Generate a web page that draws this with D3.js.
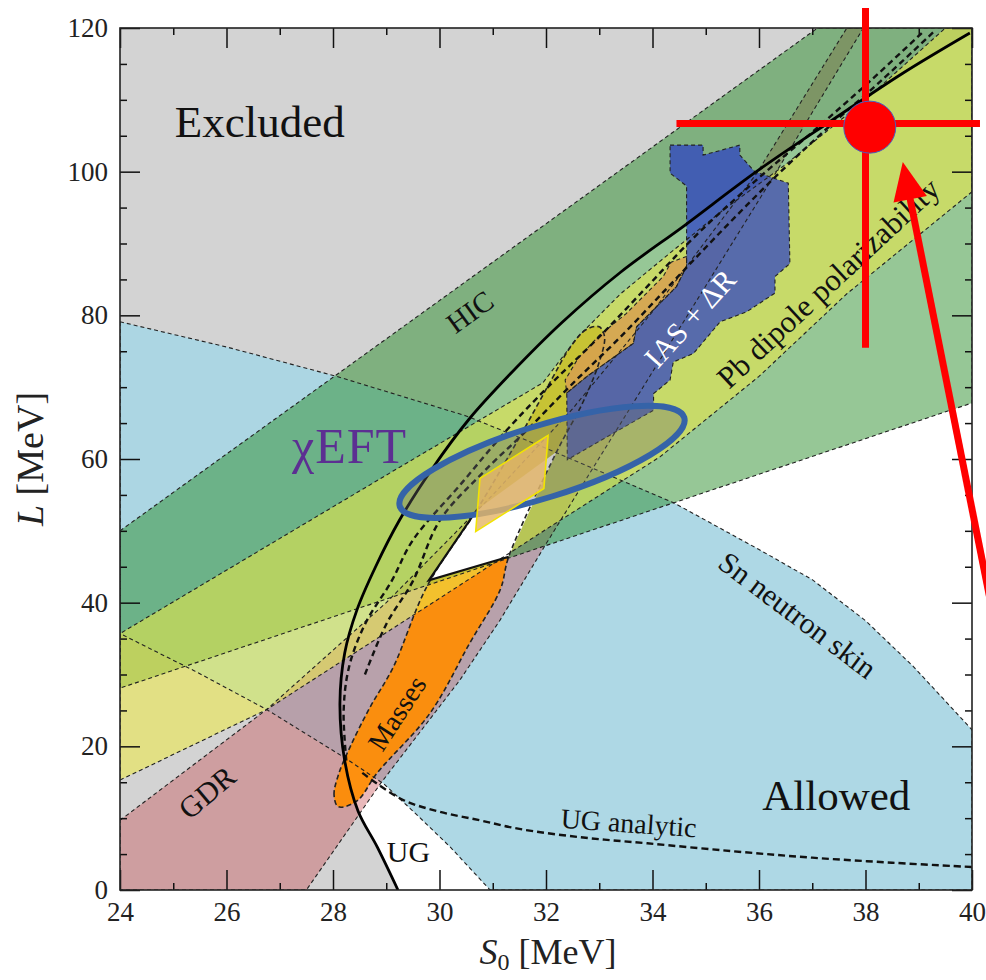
<!DOCTYPE html>
<html>
<head>
<meta charset="utf-8">
<script src="https://cdn.jsdelivr.net/npm/d3@7/dist/d3.min.js"></script>
<style>
  body { margin: 0; background: #fff; }
  svg { display: block; }
  text { font-family: "Liberation Serif", "DejaVu Serif", serif; }
</style>
</head>
<body>
<svg id="chart" width="986" height="980"></svg>
<script>
// ---- ticks ----
const xMajor = [24, 26, 28, 30, 32, 34, 36, 38, 40];
const xMinor = [25, 27, 29, 31, 33, 35, 37, 39];
const yMajor = [0, 20, 40, 60, 80, 100, 120];
const yMinor = [5, 10, 15, 25, 30, 35, 45, 50, 55, 65, 70, 75, 85, 90, 95, 105, 110, 115];

// ---- constraint regions, [S0, L] ----
const snBand = [[24, 79.1], [26, 75.6], [28.07, 71.5], [30.5, 66], [32, 61.5], [34.4, 53.9], [36, 47.4],
  [37, 43.2], [38, 37.5], [38.9, 31.1], [40, 22.3], [40, 0], [30.95, 0], [30.2, 6], [29.5, 11],
  [28.95, 14.8], [28.2, 18.5], [26.76, 25.1], [25.4, 30.5], [24, 35.7]];
const hicBand = [[24, 50], [37.1, 120], [40, 120], [40, 67.8], [24, 28.1]];
const pbBand = [[24, 15.3], [26.75, 25.1], [30, 40.6], [32, 50.2], [34.14, 60.3], [36, 71.5], [37.65, 83],
  [40, 97.2], [40, 120], [39.5, 120], [38, 110], [36.5, 101], [35.3, 94.5], [34.3, 88.5], [33.4, 83],
  [32.6, 77], [31.94, 70.6], [29.26, 58.9], [24, 35.7]];
const gdrBand = [[24, 9.7], [26.75, 25.1], [29, 40], [31, 55], [32.5, 67], [34, 80.5], [35.96, 99.8],
  [37.65, 120], [37.96, 120], [36.27, 99.3], [32.01, 48.3], [31.14, 37.6], [30.38, 29.2], [28.9, 14.9],
  [27.5, 0], [24, 0]];
const massesBand = [[28.1, 11.6], [28.02, 13.2], [28.1, 16], [28.32, 19.9], [28.7, 25.5], [29.13, 31],
  [29.76, 42.2], [30.7, 52.9], [31.5, 63], [32.1, 71], [32.45, 75.5], [32.75, 78], [33.0, 78.4],
  [33.1, 77], [33.0, 73.5], [32.7, 68], [32.2, 61], [31.3, 46.4], [31.14, 41.8], [30.57, 34.4],
  [29.82, 24.6], [28.83, 16.3], [28.45, 12.4]];
const iasBand = [[34.33, 103.7], [34.95, 103.7], [34.95, 102.3], [35.64, 103.7], [35.64, 102.3],
  [35.92, 100.0], [36.55, 98.4], [36.58, 87.2], [36.3, 85.4], [36.3, 83.1], [35.77, 80.5],
  [35.27, 79.1], [34.77, 74.7], [34.39, 73.5], [34.33, 71.0], [34.02, 69.1], [34.02, 66.8],
  [32.4, 59.9], [32.39, 69.2], [32.77, 71.5], [33.64, 76.1], [33.7, 78.4], [34.45, 84],
  [34.64, 86.8], [34.64, 98], [34.33, 99.8]];
const iasEdge = [[32.39, 69.2], [32.77, 71.5], [33.64, 76.1], [33.7, 78.4], [34.45, 84], [34.64, 86.8],
  [34.64, 88.2], [34.35, 87.4], [34.2, 85.4], [33.5, 80.2], [33.0, 77.2], [32.6, 74.0], [32.36, 71.0]];
const overlap = [[29.8, 43.1], [30.7, 52.9], [32.2, 61.0], [31.3, 46.4]];

// ---- unitary gas bounds ----
const ugCurve = [[29.22, 0], [28.83, 6], [28.47, 11], [28.22, 18], [28.13, 26], [28.22, 33], [28.45, 39],
  [28.8, 45], [29.25, 51.5], [29.85, 58.5], [30.55, 65.5], [31.35, 72], [32.3, 79], [33.4, 86],
  [34.6, 92.5], [35.95, 100], [37.4, 107.3], [38.7, 113.7], [39.96, 119.3]];
const ugDashA = [[28.25, 18], [28.2, 25], [28.3, 31], [28.6, 37], [29.1, 43], [29.5, 48.7], [30.4, 56.5],
  [31.26, 64], [32.1, 70.5], [33.0, 77], [33.9, 84], [34.8, 91], [35.9, 98.5], [37.0, 105.5],
  [38.1, 112.7], [39.1, 119.6]];
const ugDashB = [[28.6, 30], [29.0, 37], [29.5, 43], [30.01, 51.5], [30.8, 58], [31.64, 64],
  [32.5, 70.5], [33.4, 77], [34.3, 84], [35.2, 91], [36.2, 98.5], [37.2, 105.5], [38.3, 112.7],
  [39.3, 119.6]];
const ugAnalytic = [[28.55, 16.3], [29.3, 12.6], [30.0, 10.9], [30.76, 9.7], [31.5, 8.5], [32.7, 7.3],
  [33.9, 6.5], [35.5, 5.4], [37.0, 4.5], [38.5, 3.8], [40, 3.2]];

// ---- labels in the plot ----
const regionLabels = [
  { text: "Excluded", at: [25.03, 104.8], angle: 0, size: 45, anchor: "start" },
  { text: "Allowed", at: [36.06, 11.1], angle: 0, size: 43, anchor: "start" },
  { text: "HIC", at: [30.57, 80.5], angle: -36, size: 29, anchor: "middle" },
  { text: "IAS + ΔR", at: [34.7, 79.6], angle: -48, size: 30, anchor: "middle", fill: "#fff" },
  { text: "Pb dipole polarizability", at: [37.3, 84.5], angle: -43, size: 31, anchor: "middle" },
  { text: "Sn neutron skin", at: [36.73, 38.3], angle: 37, size: 30, anchor: "middle" },
  { text: "GDR", at: [25.63, 13.6], angle: -40, size: 30, anchor: "middle" },
  { text: "Masses", at: [29.2, 24.6], angle: -57, size: 28, anchor: "middle" },
  { text: "UG", at: [29.01, 3.9], angle: 0, size: 30, anchor: "start" },
  { text: "UG analytic", at: [33.54, 8.0], angle: 4, size: 28, anchor: "base" }
];

// ---- annotations drawn over the figure ----
const eftEnds = [[29.2, 53.3], [34.65, 65.9]];
const eftLabel = [27.23, 59.4];
const eftBox = [[30.76, 57.3], [32.04, 63.3], [31.96, 55.9], [30.68, 49.9]];
const crossH = [[34.45, 106.7], [40.15, 106.7]];
const crossV = [[38.0, 122.8], [38.0, 75.5]];
const crossDot = [38.08, 106.2];
const arrowLine = [[40.34, 40.4], [38.70, 101.35]];

const svg = d3.select("#chart");
const x = d3.scaleLinear().domain([24, 40]).range([120, 972]);
const y = d3.scaleLinear().domain([0, 120]).range([890, 28]);

svg.append("defs").append("clipPath").attr("id", "plot")
  .append("rect").attr("x", 120).attr("y", 28).attr("width", 852).attr("height", 862);

const line = d3.line().x(d => x(d[0])).y(d => y(d[1]));
const smooth = d3.line().x(d => x(d[0])).y(d => y(d[1])).curve(d3.curveCatmullRom);
const blob = d3.line().x(d => x(d[0])).y(d => y(d[1])).curve(d3.curveCatmullRomClosed);
const closed = pts => line(pts) + "Z";

const g = svg.append("g").attr("clip-path", "url(#plot)");

// excluded background and allowed side of the UG bound
g.append("rect").attr("x", 120).attr("y", 28).attr("width", 852).attr("height", 862).attr("fill", "#d3d3d3");
g.append("path")
  .attr("d", smooth(ugCurve) + `L${x(40.5)},${y(121)}L${x(40.5)},${y(-1)}Z`)
  .attr("fill", "#fff");

const layers = [
  { pts: snBand, fill: "rgb(170,214,228)", op: 0.95 },
  { pts: gdrBand, fill: "rgb(200,80,85)", op: 0.4 },
  { pts: massesBand, fill: "#ff8c00", op: 0.92, round: true },
  { pts: hicBand, fill: "rgb(40,140,40)", op: 0.49 },
  { pts: pbBand, fill: "rgb(238,234,70)", op: 0.56 },
  { pts: iasBand, fill: "rgb(40,60,200)", op: 0.7 },
  { pts: iasEdge, fill: "rgb(215,160,80)", op: 0.85 }
];

layers.forEach(l => {
  g.append("path")
    .attr("d", l.round ? blob(l.pts) : closed(l.pts))
    .attr("fill", l.fill)
    .attr("fill-opacity", l.op);
});

g.append("path").attr("d", closed(overlap)).attr("fill", "#fff");

// dashed outlines of the regions
layers.forEach(l => {
  g.append("path")
    .attr("d", l.round ? blob(l.pts) : closed(l.pts))
    .attr("fill", "none")
    .attr("stroke", "#222")
    .attr("stroke-width", l.round ? 1.6 : 1.1)
    .attr("stroke-dasharray", l.round ? "5,3" : "4,3");
});

g.append("path").attr("d", line([overlap[1], overlap[0], overlap[3]]))
  .attr("fill", "none").attr("stroke", "#111").attr("stroke-width", 2.2);

[ugDashA, ugDashB].forEach(c => {
  g.append("path").attr("d", smooth(c))
    .attr("fill", "none").attr("stroke", "#111")
    .attr("stroke-width", 2.4).attr("stroke-dasharray", "6,4");
});
g.append("path").attr("d", smooth(ugAnalytic))
  .attr("fill", "none").attr("stroke", "#111")
  .attr("stroke-width", 2.4).attr("stroke-dasharray", "7,4");
g.append("path").attr("d", smooth(ugCurve))
  .attr("fill", "none").attr("stroke", "#000").attr("stroke-width", 2.8);

// region labels
regionLabels.forEach(d => {
  g.append("text")
    .attr("transform", `translate(${x(d.at[0])},${y(d.at[1])}) rotate(${d.angle})`)
    .attr("text-anchor", d.anchor === "start" ? "start" : "middle")
    .attr("dominant-baseline", d.anchor === "middle" ? "central" : "auto")
    .attr("font-size", d.size)
    .attr("fill", d.fill || "#111")
    .text(d.text);
});

// ---- axes with inward ticks ----
const noDomain = sel => sel.select(".domain").remove();
const tickStyle = sel => sel.selectAll("line").attr("stroke", "#111").attr("stroke-width", 1.5);
const labelStyle = sel => sel.selectAll("text").attr("font-size", 27).attr("fill", "#222")
  .attr("font-family", "Liberation Serif, serif");

svg.append("g").attr("transform", "translate(0,890)")
  .call(d3.axisBottom(x).tickValues(xMajor).tickSize(-20).tickPadding(12).tickFormat(d3.format("d")))
  .call(noDomain).call(tickStyle).call(labelStyle);
svg.append("g").attr("transform", "translate(0,890)")
  .call(d3.axisBottom(x).tickValues(xMinor).tickSize(-7).tickFormat(""))
  .call(noDomain).call(tickStyle);
svg.append("g").attr("transform", "translate(0,28)")
  .call(d3.axisTop(x).tickValues(xMajor).tickSize(-20).tickFormat(""))
  .call(noDomain).call(tickStyle);
svg.append("g").attr("transform", "translate(0,28)")
  .call(d3.axisTop(x).tickValues(xMinor).tickSize(-7).tickFormat(""))
  .call(noDomain).call(tickStyle);
svg.append("g").attr("transform", "translate(120,0)")
  .call(d3.axisLeft(y).tickValues(yMajor).tickSize(-20).tickPadding(12).tickFormat(d3.format("d")))
  .call(noDomain).call(tickStyle).call(labelStyle);
svg.append("g").attr("transform", "translate(120,0)")
  .call(d3.axisLeft(y).tickValues(yMinor).tickSize(-7).tickFormat(""))
  .call(noDomain).call(tickStyle);
svg.append("g").attr("transform", "translate(972,0)")
  .call(d3.axisRight(y).tickValues(yMajor).tickSize(-20).tickFormat(""))
  .call(noDomain).call(tickStyle);
svg.append("g").attr("transform", "translate(972,0)")
  .call(d3.axisRight(y).tickValues(yMinor).tickSize(-7).tickFormat(""))
  .call(noDomain).call(tickStyle);

svg.append("rect").attr("x", 120).attr("y", 28).attr("width", 852).attr("height", 862)
  .attr("fill", "none").attr("stroke", "#222").attr("stroke-width", 1.6);

// axis titles
const xt = svg.append("text").attr("x", 548).attr("y", 964).attr("text-anchor", "middle")
  .attr("font-size", 36).attr("fill", "#222");
xt.append("tspan").attr("font-style", "italic").text("S");
xt.append("tspan").attr("font-size", 24).attr("dy", 6).text("0");
xt.append("tspan").attr("dy", -6).text(" [MeV]");

const yt = svg.append("text").attr("transform", "translate(43,459) rotate(-90)")
  .attr("text-anchor", "middle").attr("font-size", 38).attr("fill", "#222");
yt.append("tspan").attr("font-style", "italic").text("L");
yt.append("tspan").text(" [MeV]");

// ---- overlays ----
const e0 = [x(eftEnds[0][0]), y(eftEnds[0][1])];
const e1 = [x(eftEnds[1][0]), y(eftEnds[1][1])];
const ecx = (e0[0] + e1[0]) / 2, ecy = (e0[1] + e1[1]) / 2;
const erx = Math.hypot(e1[0] - e0[0], e1[1] - e0[1]) / 2 - 3;
const eang = Math.atan2(e1[1] - e0[1], e1[0] - e0[0]) * 180 / Math.PI;
svg.append("ellipse")
  .attr("transform", `translate(${ecx},${ecy}) rotate(${eang})`)
  .attr("rx", erx).attr("ry", 36)
  .attr("fill", "rgb(110,110,110)").attr("fill-opacity", 0.35)
  .attr("stroke", "#3563a8").attr("stroke-width", 6);

svg.append("path").attr("d", closed(eftBox))
  .attr("fill", "rgb(228,182,105)").attr("fill-opacity", 0.82)
  .attr("stroke", "#f2e400").attr("stroke-width", 1.6);

svg.append("text")
  .attr("x", x(eftLabel[0])).attr("y", y(eftLabel[1]))
  .attr("font-family", "Liberation Sans, Arial, sans-serif")
  .attr("font-size", 50).attr("fill", "#5c2f92")
  .attr("letter-spacing", 1)
  .text("χEFT");

svg.append("line")
  .attr("x1", x(crossH[0][0])).attr("y1", y(crossH[0][1]))
  .attr("x2", x(crossH[1][0])).attr("y2", y(crossH[1][1]))
  .attr("stroke", "#ff0000").attr("stroke-width", 7);
svg.append("line")
  .attr("x1", x(crossV[0][0])).attr("y1", y(crossV[0][1]))
  .attr("x2", x(crossV[1][0])).attr("y2", y(crossV[1][1]))
  .attr("stroke", "#ff0000").attr("stroke-width", 7);
svg.append("circle")
  .attr("cx", x(crossDot[0])).attr("cy", y(crossDot[1])).attr("r", 26)
  .attr("fill", "#ff0000").attr("stroke", "#4a5fc0").attr("stroke-width", 1);

const tail = [x(arrowLine[0][0]), y(arrowLine[0][1])];
const tip = [x(arrowLine[1][0]), y(arrowLine[1][1])];
const alen = Math.hypot(tip[0] - tail[0], tip[1] - tail[1]);
const ux = (tip[0] - tail[0]) / alen, uy = (tip[1] - tail[1]) / alen;
const base = [tip[0] - ux * 38, tip[1] - uy * 38];
svg.append("line")
  .attr("x1", tail[0]).attr("y1", tail[1])
  .attr("x2", base[0] + ux * 4).attr("y2", base[1] + uy * 4)
  .attr("stroke", "#ff0000").attr("stroke-width", 7);
svg.append("path")
  .attr("d", `M${tip[0]},${tip[1]}L${base[0] - uy * 17},${base[1] + ux * 17}L${base[0] + uy * 17},${base[1] - ux * 17}Z`)
  .attr("fill", "#ff0000");
</script>
</body>
</html>
